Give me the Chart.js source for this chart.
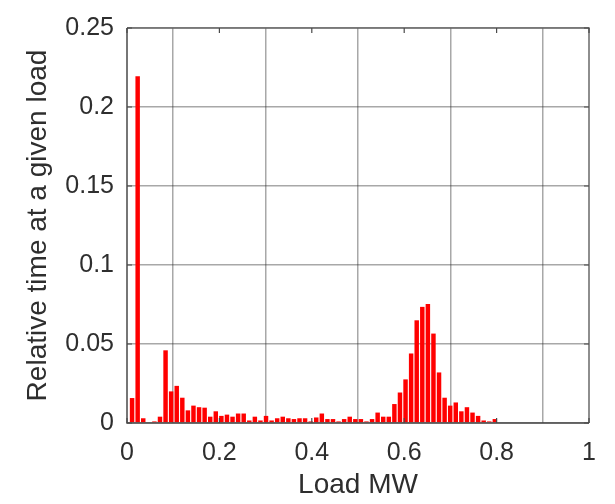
<!DOCTYPE html>
<html>
<head>
<meta charset="utf-8">
<script src="https://cdn.jsdelivr.net/npm/chart.js@4/dist/chart.umd.min.js"></script>
<style>
  html, body { margin: 0; padding: 0; background: #ffffff; }
  #wrap { width: 615px; height: 504px; }
</style>
</head>
<body>
<div id="wrap"><canvas id="loadHist" width="615" height="504"></canvas></div>
<script>
// Load histogram: share of time spent in each load bin (MW)
const FIRST_BIN_CENTER = 0.011;
const BIN_WIDTH = 0.01208;

const relTime = [
    0.0158, 0.2195, 0.003, 0, 0.001, 0.004, 0.046, 0.020, 0.0235, 0.016,
    0.008, 0.011, 0.010, 0.0097, 0.004, 0.0074, 0.0045, 0.0053, 0.004, 0.006,
    0.006, 0.0016, 0.004, 0.0016, 0.0045, 0.0016, 0.003, 0.004, 0.003, 0.0025,
    0.003, 0.003, 0.001, 0.0035, 0.006, 0.0025, 0.0025, 0.001, 0.0025, 0.004,
    0.0025, 0.0025, 0.001, 0.0025, 0.0066, 0.004, 0.004, 0.012, 0.0193, 0.0276,
    0.044, 0.065, 0.0735, 0.0753, 0.0566, 0.032, 0.016, 0.011, 0.013, 0.0074,
    0.010, 0.0066, 0.0045, 0.0016, 0.001, 0.0025
];

const xTicks = [0, 0.2, 0.4, 0.6, 0.8, 1];
const xTickLabels = ['0', '0.2', '0.4', '0.6', '0.8', '1'];
const yTicks = [0, 0.05, 0.1, 0.15, 0.2, 0.25];
const yTickLabels = ['0', '0.05', '0.1', '0.15', '0.2', '0.25'];

const FONT = '"Liberation Sans", Arial, Helvetica, sans-serif';
const TEXT = '#2e2e2e';
const GRID = 'rgba(38,38,38,0.4)';

const loadBins = relTime.map((_, i) => FIRST_BIN_CENTER + i * BIN_WIDTH);
const points = relTime.map((v, i) => ({ x: loadBins[i], y: v }));

// box around the axes plus short inward ticks, matlab style
const axesBox = {
    id: 'axesBox',
    afterDraw(chart) {
        const { ctx, chartArea: a, scales } = chart;
        ctx.save();
        ctx.strokeStyle = '#6a6a6a';
        ctx.lineWidth = 1.5;
        ctx.beginPath();
        ctx.moveTo(a.left, a.top);
        ctx.lineTo(a.right, a.top);
        ctx.lineTo(a.right, a.bottom);
        ctx.stroke();

        ctx.strokeStyle = '#4a4a4a';
        ctx.beginPath();
        ctx.moveTo(a.left, a.top);
        ctx.lineTo(a.left, a.bottom);
        ctx.lineTo(a.right, a.bottom);
        ctx.stroke();

        const tl = 5;
        ctx.lineWidth = 1.2;
        yTicks.forEach(v => {
            const y = scales.y.getPixelForValue(v);
            ctx.beginPath();
            ctx.moveTo(a.left, y); ctx.lineTo(a.left + tl, y);
            ctx.moveTo(a.right, y); ctx.lineTo(a.right - tl, y);
            ctx.stroke();
        });
        xTicks.forEach(v => {
            const x = scales.x.getPixelForValue(v);
            ctx.beginPath();
            ctx.moveTo(x, a.bottom); ctx.lineTo(x, a.bottom - tl);
            ctx.moveTo(x, a.top); ctx.lineTo(x, a.top + tl);
            ctx.stroke();
        });
        ctx.restore();
    }
};

new Chart(document.getElementById('loadHist').getContext('2d'), {
    type: 'bar',
    data: {
        datasets: [{
            data: points,
            backgroundColor: '#ff0000',
            borderWidth: 0,
            categoryPercentage: 1,
            barPercentage: 0.8
        }]
    },
    options: {
        responsive: false,
        animation: false,
        layout: { padding: { left: 0, right: 26, top: 17, bottom: 0 } },
        plugins: {
            legend: { display: false },
            tooltip: { enabled: false }
        },
        scales: {
            x: {
                type: 'linear',
                min: 0,
                max: 1,
                offset: false,
                afterFit: s => { s.height = 81; },
                afterBuildTicks: s => { s.ticks = xTicks.map(v => ({ value: v })); },
                grid: { color: GRID, lineWidth: 1.5, drawTicks: false },
                border: { display: false },
                ticks: {
                    padding: 15,
                    color: TEXT,
                    font: { family: FONT, size: 25 },
                    maxRotation: 0,
                    callback: (v, i) => xTickLabels[i]
                },
                title: {
                    display: true,
                    text: 'Load MW',
                    color: TEXT,
                    font: { family: FONT, size: 28 },
                    padding: { top: 0, bottom: 2 }
                }
            },
            y: {
                min: 0,
                max: 0.25,
                afterFit: s => { s.width = 127; },
                afterBuildTicks: s => { s.ticks = yTicks.map(v => ({ value: v })); },
                grid: { color: GRID, lineWidth: 1.5, drawTicks: false },
                border: { display: false },
                ticks: {
                    padding: 13,
                    color: TEXT,
                    font: { family: FONT, size: 25 },
                    callback: (v, i) => yTickLabels[i]
                },
                title: {
                    display: true,
                    text: 'Relative time at a given load',
                    color: TEXT,
                    font: { family: FONT, size: 28 },
                    padding: { top: 21, bottom: 0 }
                }
            }
        }
    },
    plugins: [axesBox]
});
</script>
</body>
</html>
